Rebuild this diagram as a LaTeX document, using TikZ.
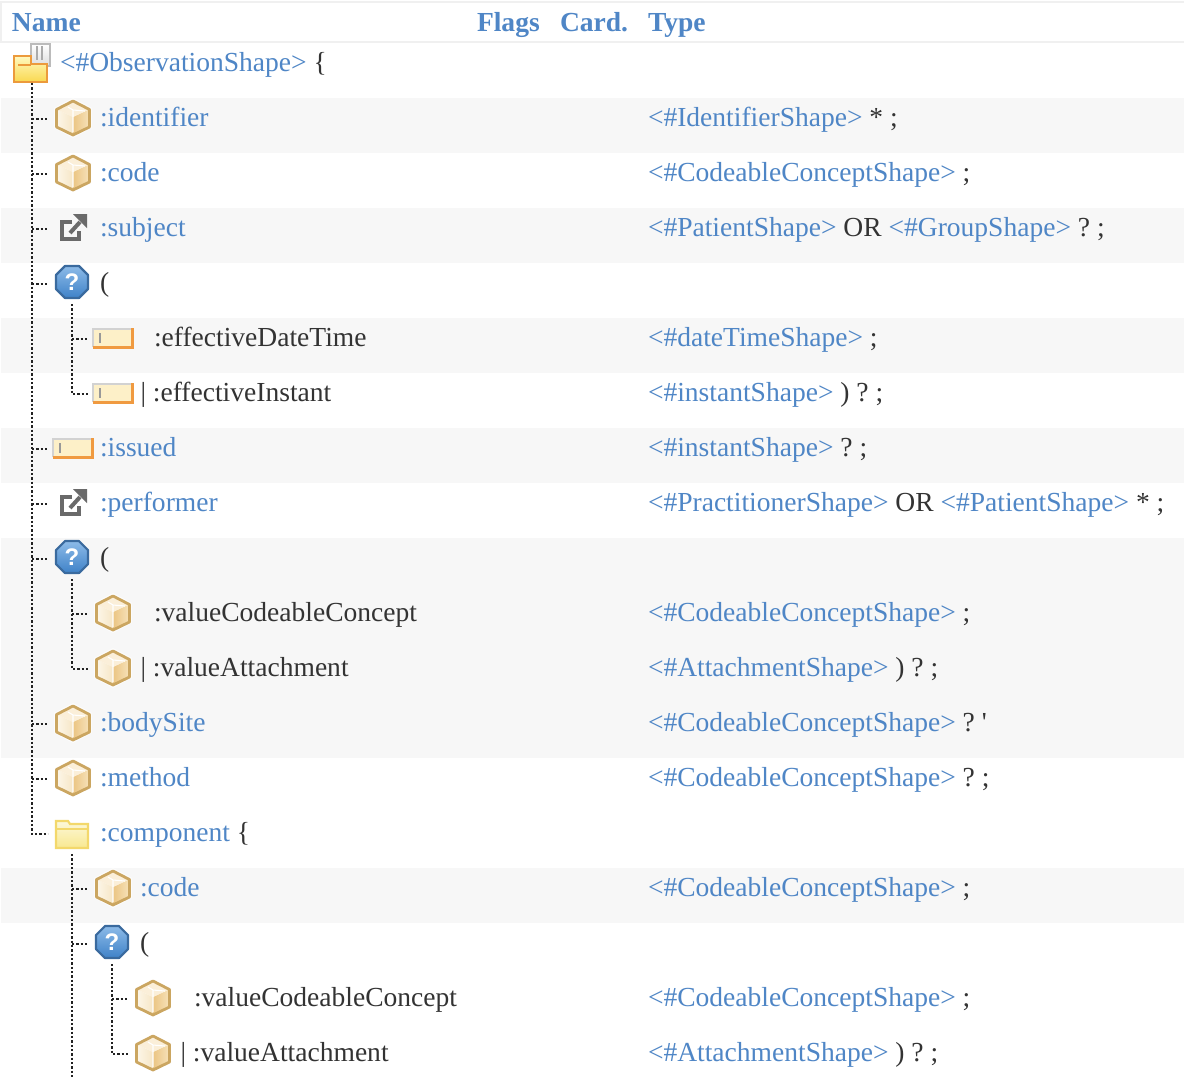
\documentclass[tikz,border=0pt]{standalone}
\usepackage{fontspec}
\setmainfont{Liberation Serif}
\setsansfont{Liberation Sans}
\newfontfamily\plainserif{Liberation Serif}
\usetikzlibrary{shadings}
\definecolor{lk}{HTML}{4F86C6}
\definecolor{tx}{HTML}{333333}
\definecolor{stripe}{HTML}{F7F7F7}
\definecolor{hline}{HTML}{F0F0F0}
\definecolor{treeink}{HTML}{222222}
\definecolor{cubeA}{HTML}{FDF7EA}\definecolor{cubeB}{HTML}{F6E6C6}
\definecolor{cubeC}{HTML}{EBC583}\definecolor{cubeD}{HTML}{F7E3BC}
\definecolor{cubeE}{HTML}{FBEFD9}\definecolor{cubeF}{HTML}{CBA661}
\definecolor{qA}{HTML}{8DBBE8}\definecolor{qB}{HTML}{3F82C8}\definecolor{qC}{HTML}{3A6A9E}
\definecolor{extc}{HTML}{6A6A6A}
\definecolor{dA}{HTML}{FDF0C8}\definecolor{dB}{HTML}{D2D2D2}\definecolor{dC}{HTML}{F09A40}\definecolor{dD}{HTML}{999999}
\definecolor{fA}{HTML}{FCF8DA}\definecolor{fB}{HTML}{F8E890}\definecolor{fC}{HTML}{F3D86B}
\definecolor{pA}{HTML}{FFFFFF}\definecolor{pB}{HTML}{DDDDDD}\definecolor{pC}{HTML}{BBBBBB}\definecolor{pD}{HTML}{AAAAAA}
\definecolor{rA}{HTML}{FFF9C0}\definecolor{rB}{HTML}{F9D850}\definecolor{rC}{HTML}{EC9A3C}
\newcommand{\lk}[1]{\textcolor{lk}{#1}}
\tikzset{
  tree/.style={draw=treeink,line width=2pt,dash pattern=on 1.7pt off 1.55pt},
  iconbox/.style={inner sep=0pt,outer sep=0pt,minimum width=36pt,minimum height=30pt},
  rootbox/.style={inner sep=0pt,outer sep=0pt,minimum width=27pt,minimum height=25.5pt},
  lbl/.style={anchor=base west,inner sep=0pt,outer sep=0pt,text=tx,font=\fontsize{20.65}{25}\selectfont\frenchspacing},
  head/.style={lbl,text=lk,font=\fontsize{20.65}{25}\selectfont\bfseries},
  cubeic/.pic={
    \begin{scope}[shift={(1,-1)}]
    \fill[white,opacity=.7] (0,-20)--(19,-10)--(19,10)--(0,20)--(-19,10)--(-19,-10)--cycle;
    \path[left color=cubeA,right color=cubeB] (-17,-9)--(0,-1)--(0,18)--(-17,9)--cycle;
    \path[left color=cubeC,right color=cubeD] (17,-9)--(0,-1)--(0,18)--(17,9)--cycle;
    \path[fill=cubeE] (0,-18)--(17,-9)--(0,-1)--(-17,-9)--cycle;
    \draw[cubeF,line width=2.1pt,line join=round] (0,-17)--(16.5,-8.5)--(16.5,9)--(0,17)--(-16.5,9)--(-16.5,-8.5)--cycle;
    \draw[white,line width=.8pt] (-5,-11)--(0,-8)--(0,14) (0,-8)--(12,-7);
    \end{scope}},
  qic/.pic={
    \begin{scope}[shift={(0,-2)}]
    \path[top color=qA,bottom color=qB,draw=qC,line width=1.6pt,line join=round]
      (-7,-16)--(7,-16)--(16,-7)--(16,7)--(7,16)--(-7,16)--(-16,7)--(-16,-7)--cycle;
    \node[inner sep=0pt,text=white,font=\sffamily\fontsize{18}{18}\selectfont\bfseries] at (0,0) {?};
    \end{scope}},
  extic/.pic={
    \begin{scope}[shift={(0,-1)}]
    \draw[extc,line width=2.5pt] (0,-6)--(-10,-6)--(-10,11)--(7,11)--(7,3);
    \draw[extc,line width=3pt] (-2,5)--(8,-6);
    \fill[extc] (1,-14)--(15,-14)--(15,0)--cycle;
    \end{scope}},
  dataic/.pic={
    \begin{scope}[shift={(0,-1)}]
    \fill[dA] (-20,-10) rectangle (20,10);
    \draw[dB,line width=2pt] (-20,9)--(-20,-9)--(20,-9);
    \draw[dC,line width=2pt] (19.5,-10)--(19.5,9.5)--(-20,9.5);
    \draw[dD,line width=1.7pt] (-13,-5)--(-13,5);
    \end{scope}},
  folderic/.pic={
    \path[top color=fA,bottom color=fB,draw=fC,line width=1.6pt] (-16,-13)--(-4,-13)--(-2,-10)--(16,-10)--(16,14)--(-16,14)--cycle;
    \draw[fC,line width=1pt] (-15,-5)--(15,-5);},
  rootic/.pic={
    \path[top color=pA,bottom color=pB,draw=pC,line width=1.3pt] (-1,-22) rectangle (18,0);
    \draw[pD,line width=1pt] (5,-20)--(5,-6) (10,-20)--(10,-6);
    \path[top color=rA,bottom color=rB,draw=rC,line width=1.8pt] (-18,-10)--(-1,-10)--(-1,-2)--(15,-2)--(15,16)--(-18,16)--cycle;
    \draw[rC,line width=1pt] (-14,-1)--(-1,-1);}
}
\newcommand{\icon}[4]{\node[iconbox] (#2) at (#3,#4) {}; \pic at (#2.center) {#1};}
\begin{document}
\begin{tikzpicture}[x=0.75pt,y=-0.75pt]
\useasboundingbox (0,0) rectangle (1184,1078);
\fill[white] (0,0) rectangle (1184,1078);
% stripes
\foreach \a/\b in {98/153,208/263,318/373,428/483,538/758,868/923}
  \fill[stripe] (1,\a) rectangle (1184,\b);
% header rules
\fill[hline] (0,1) rectangle (1184,3);
\fill[hline] (0,41) rectangle (1184,43);
\fill[hline] (0,1) rectangle (2,43);
% icons
\node[rootbox] (root) at (32,66) {}; \pic at (32,66) {rootic};
\icon{cubeic}{id}{72}{119}
\icon{cubeic}{code}{72}{174}
\icon{extic}{subj}{72}{229}
\icon{qic}{qa}{72}{284}
\icon{dataic}{edt}{113}{339}
\icon{dataic}{ein}{113}{394}
\icon{dataic}{iss}{73}{449}
\icon{extic}{perf}{72}{504}
\icon{qic}{qb}{72}{559}
\icon{cubeic}{vcc}{112}{614}
\icon{cubeic}{vat}{112}{669}
\icon{cubeic}{site}{72}{724}
\icon{cubeic}{meth}{72}{779}
\icon{folderic}{comp}{72}{834}
\icon{cubeic}{ccode}{112}{889}
\icon{qic}{qc}{112}{944}
\icon{cubeic}{cvcc}{152}{999}
\icon{cubeic}{cvat}{152}{1054}
\coordinate (bottom) at (72,1078);
% tree
\draw[tree] (root.south) |- (comp.west);
\foreach \n in {id,code,subj,qa,iss,perf,qb,site,meth}
  \draw[tree] (root.south |- \n.center) -- (48,0 |- \n.center);
\draw[tree] (qa.south) |- (88,0 |- ein.center);
\draw[tree] (qa.south |- edt.center) -- (88,0 |- edt.center);
\draw[tree] (qb.south) |- (vat.west);
\draw[tree] (qb.south |- vcc.center) -- (vcc.west);
\draw[tree] (comp.south) -- (bottom);
\draw[tree] (comp.south |- ccode.center) -- (ccode.west);
\draw[tree] (comp.south |- qc.center) -- (qc.west);
\draw[tree] (qc.south) |- (cvat.west);
\draw[tree] (qc.south |- cvcc.center) -- (cvcc.west);
% header
\node[head] (hname) at (12,31) {Name};
\node[head] (hflags) at (477,31) {Flags};
\node[head] (hcard) at (560,31) {Card.};
\node[head] (htype) at (648,31) {Type};
% names
\node[lbl] (n1) at (60,71) {\lk{<\#ObservationShape>} \{};
\node[lbl] (n2) at (100,126) {\lk{:identifier}};
\node[lbl] (n3) at (100,181) {\lk{:code}};
\node[lbl] (n4) at (100,236) {\lk{:subject}};
\node[lbl] (n5) at (100,291) {(};
\node[lbl] (n6) at (154,346) {:effectiveDateTime};
\node[lbl] (n7) at (140.5,401) {| :effectiveInstant};
\node[lbl] (n8) at (100,456) {\lk{:issued}};
\node[lbl] (n9) at (100,511) {\lk{:performer}};
\node[lbl] (n10) at (100,566) {(};
\node[lbl] (n11) at (154,621) {:valueCodeableConcept};
\node[lbl] (n12) at (140.5,676) {| :valueAttachment};
\node[lbl] (n13) at (100,731) {\lk{:bodySite}};
\node[lbl] (n14) at (100,786) {\lk{:method}};
\node[lbl] (n15) at (100,841) {\lk{:component} \{};
\node[lbl] (n16) at (140,896) {\lk{:code}};
\node[lbl] (n17) at (140,951) {(};
\node[lbl] (n18) at (194,1006) {:valueCodeableConcept};
\node[lbl] (n19) at (180.5,1061) {| :valueAttachment};
% types
\node[lbl] (t2) at (648,126) {\lk{<\#IdentifierShape>} * ;};
\node[lbl] (t3) at (648,181) {\lk{<\#CodeableConceptShape>} ;};
\node[lbl] (t4) at (648,236) {\lk{<\#PatientShape>} OR \lk{<\#GroupShape>} ? ;};
\node[lbl] (t6) at (648,346) {\lk{<\#dateTimeShape>} ;};
\node[lbl] (t7) at (648,401) {\lk{<\#instantShape>} ) ? ;};
\node[lbl] (t8) at (648,456) {\lk{<\#instantShape>} ? ;};
\node[lbl] (t9) at (648,511) {\lk{<\#PractitionerShape>} OR \lk{<\#PatientShape>} * ;};
\node[lbl] (t11) at (648,621) {\lk{<\#CodeableConceptShape>} ;};
\node[lbl] (t12) at (648,676) {\lk{<\#AttachmentShape>} ) ? ;};
\node[lbl] (t13) at (648,731) {\lk{<\#CodeableConceptShape>} ? {\plainserif '}};
\node[lbl] (t14) at (648,786) {\lk{<\#CodeableConceptShape>} ? ;};
\node[lbl] (t16) at (648,896) {\lk{<\#CodeableConceptShape>} ;};
\node[lbl] (t18) at (648,1006) {\lk{<\#CodeableConceptShape>} ;};
\node[lbl] (t19) at (648,1061) {\lk{<\#AttachmentShape>} ) ? ;};
\end{tikzpicture}
\end{document}
